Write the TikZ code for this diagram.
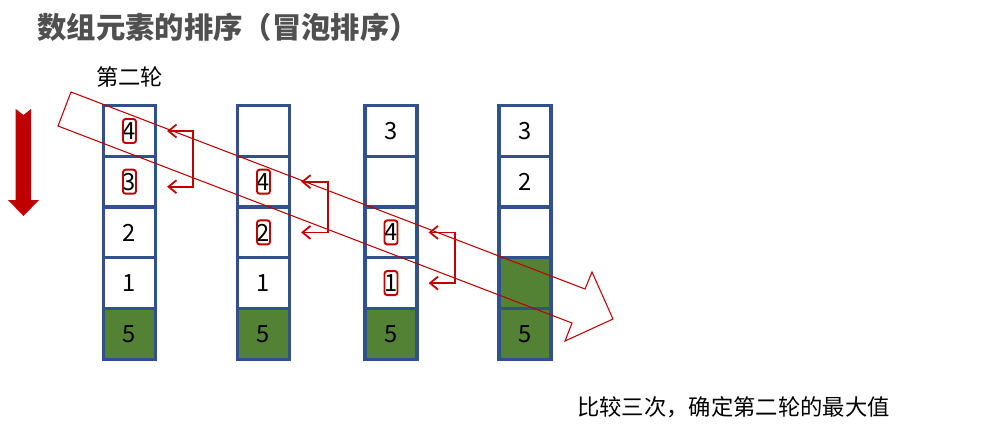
\documentclass[tikz,border=0pt]{standalone}
\usepackage{fontspec}
\setmainfont{Noto Sans CJK SC}
\usetikzlibrary{arrows.meta,positioning}
\definecolor{cellblue}{RGB}{47,82,143}
\definecolor{donegreen}{RGB}{84,130,53}
\definecolor{swapred}{RGB}{192,0,0}
\definecolor{titlegray}{RGB}{80,80,80}
\tikzset{
  cell/.style={draw=cellblue, line width=1.85pt, minimum width=1.04cm,
    minimum height=1.014cm, inner sep=0pt, font=\fontsize{13.5}{15}\selectfont},
  digbox/.style={draw=swapred, line width=1.1pt, rounded corners=1.5pt,
    minimum width=0.26cm, minimum height=0.48cm, inner sep=0pt},
  swapln/.style={{Straight Barb[length=1.6mm,width=2.6mm]}-{Straight Barb[length=1.6mm,width=2.6mm]},
    draw=swapred, line width=1pt},
  passln/.style={draw=swapred, line width=0.6pt, line join=miter},
  lbl/.style={inner sep=0pt, font=\fontsize{12.7}{15}\selectfont},
}
\newcommand{\emptycell}{}

\begin{document}
\begin{tikzpicture}[x=0.02cm, y=-0.02cm]
  \fill[white] (0,0) rectangle (999,441);
  \useasboundingbox (0,0) rectangle (999,441);

  \node[font=\bfseries\fontsize{16.7}{19}\selectfont, text=titlegray, inner sep=0pt, anchor=west]
    (title) at (37,27) {数组元素的排序（冒泡排序）};
  \node[lbl] (round) at (129.5,77) {第二轮};

  % direction of the pass
  \fill[swapred] (15.7,109) -- (23.5,115) -- (31,109) -- (31,200) -- (39,200)
    -- (23.5,216) -- (8,200) -- (15.7,200) -- cycle;

  % the four states of the array
  \foreach \c/\x/\g/\vals in {a/129.5/5/{4,3,2,1,5}, b/263.5/5/{\emptycell,4,2,1,5},
      c/391/5/{3,\emptycell,4,1,5}, d/525/4/{3,2,\emptycell,\emptycell,5}} {
    \foreach \v [count=\r] in \vals {
      \ifnum\r<\g \def\fc{white}\else\def\fc{donegreen}\fi
      \node[cell, fill=\fc] (\c\r) at (\x, 80.3+50.7*\r) {\v};
    }
  }
  \foreach \n in {a1,a2,b2,b3,c3,c4}
    \node[digbox] (box-\n) at (\n) {};

  % compare and swap
  \draw[swapln] ([xshift=0.2cm]a1.east) -- ++(0.52cm,0) |- ([xshift=0.2cm,yshift=-0.1cm]a2.east);
  \draw[swapln] ([xshift=0.2cm]b2.east) -- ++(0.54cm,0) |- ([xshift=0.2cm]b3.east);
  \draw[swapln] ([xshift=0.2cm]c3.east) -- ++(0.52cm,0) |- ([xshift=0.2cm]c4.east);

  % the pass itself
  \draw[passln] (71,92) -- (585,289) -- (592,272) -- (613,319) -- (565,341)
    -- (572,323) -- (58,126) -- cycle;

  \node[lbl] (note) at (733.5,407) {比较三次，确定第二轮的最大值};
\end{tikzpicture}
\end{document}
